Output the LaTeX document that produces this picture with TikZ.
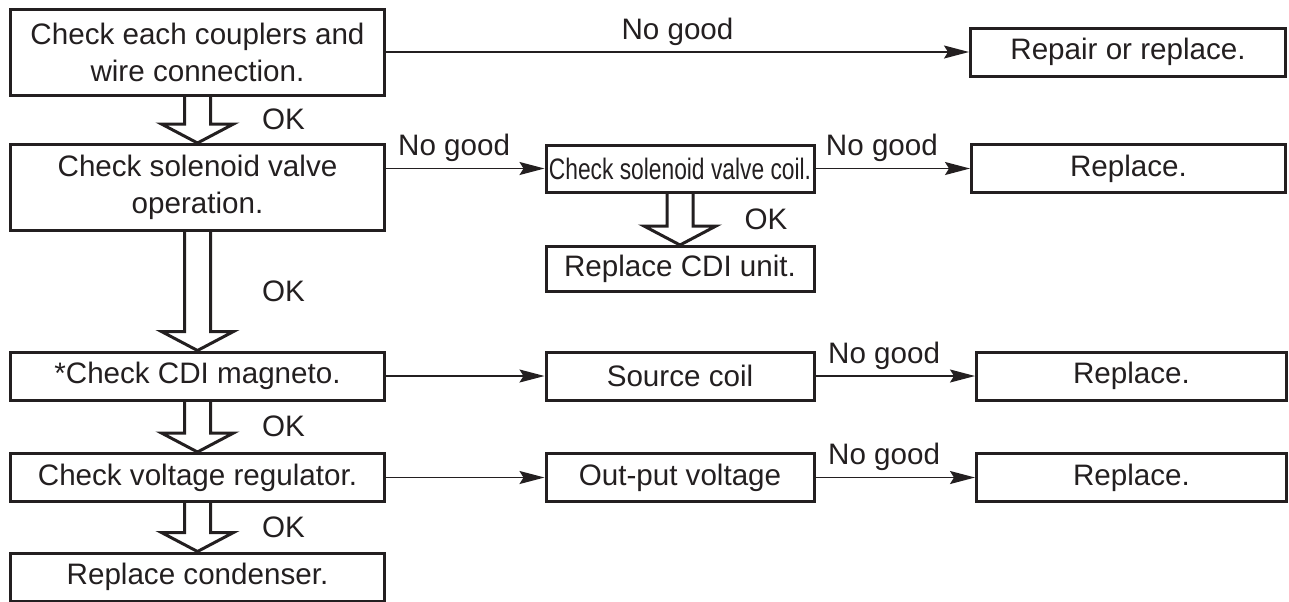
\documentclass[tikz,border=0pt]{standalone}
\usepackage{fontspec}
\setmainfont{Liberation Sans}
\newfontfamily\narrowfont[FakeStretch=0.77]{Liberation Sans}
\usetikzlibrary{arrows.meta, positioning, calc}
\definecolor{ink}{RGB}{35,31,32}
\newcommand{\mainsize}{\fontsize{14.8}{18.5}\selectfont}
\tikzset{
	box/.style={draw=ink, line width=1.5pt, inner sep=0pt, align=center, minimum height=24pt, font=\mainsize},
	wide/.style={box, minimum width=187pt},
	mid/.style={box, minimum width=134pt},
	far/.style={box, minimum width=155pt},
	ngline/.style={draw=ink, line width=0.75pt, -{Stealth[length=12.5pt,width=6.5pt,inset=2pt]}},
	nglabel/.style={above, inner sep=3pt, pos=0.43},
	hollow/.style={draw=ink, line width=1.5pt, line join=miter},
}

\begin{document}
\begin{tikzpicture}[x=0.5pt, y=0.5pt, font=\mainsize, text=ink]
		\useasboundingbox (0,0) rectangle (1289,-601);
		
		% Left column
		\node[wide, minimum height=43pt] (couplers) at (197.5,-52) {Check each couplers and\\wire connection.};
		\node[wide, minimum height=43pt] (solenoid) at (197.5,-187.5) {Check solenoid valve\\operation.};
		\node[wide] (magneto) at (197.5,-376) {*Check CDI magneto.};
		\node[wide] (regulator) at (197.5,-477.5) {Check voltage regulator.};
		\node[wide] (condenser) at (197.5,-577) {Replace condenser.};
		
		% Middle column
		\node[mid, minimum height=23.5pt, font=\narrowfont\mainsize] (coilchk) at (680,-168.5) {Check solenoid valve coil.};
		\node[mid, minimum height=22.5pt] (cdiunit) at (680,-269) {Replace CDI unit.};
		\node[mid] (source) at (680,-376) {Source coil};
		\node[mid] (output) at (680,-477.5) {Out-put voltage};
		
		% Right column
		\node[far, minimum width=157.5pt] (repair) at (1128,-52) {Repair or replace.};
		\node[far, minimum width=157pt] (replA) at (1128.5,-168.5) {Replace.};
		\node[far] (replB) at (1131.5,-376) {Replace.};
		\node[far] (replC) at (1131.5,-477.5) {Replace.};
		
		% No good branches
		\draw[ngline] (couplers.east) -- (repair.west) node[above, inner sep=3pt, midway] (ng1) {No good};
		\draw[ngline] (solenoid.east |- coilchk.west) -- (coilchk.west) node[nglabel] (ng2) {No good};
		\draw[ngline] (coilchk.east) -- (replA.west) node[nglabel] (ng3) {No good};
		\draw[ngline] (magneto.east) -- (source.west);
		\draw[ngline] (source.east) -- (replB.west) node[nglabel] (ng4) {No good};
		\draw[ngline] (regulator.east) -- (output.west);
		\draw[ngline] (output.east) -- (replC.west) node[nglabel] (ng5) {No good};
		
		% OK arrows (hollow)
		\foreach \a/\b/\n in {couplers/solenoid/1, solenoid/magneto/2, magneto/regulator/3, regulator/condenser/4, coilchk/cdiunit/5} {
			\draw[hollow] ($(\a.south)+(-13,1)$) -- ($(\b.north)+(-13,19)$) -- ($(\b.north)+(-36,19)$)
			-- (\b.north) -- ($(\b.north)+(36,19)$) -- ($(\b.north)+(13,19)$) -- ($(\a.south)+(13,1)$);
			\node (ok\n) at ($(\a.south)!0.5!(\b.north)+(86,0)$) {OK};
		}
		
	\end{tikzpicture}
\end{document}
